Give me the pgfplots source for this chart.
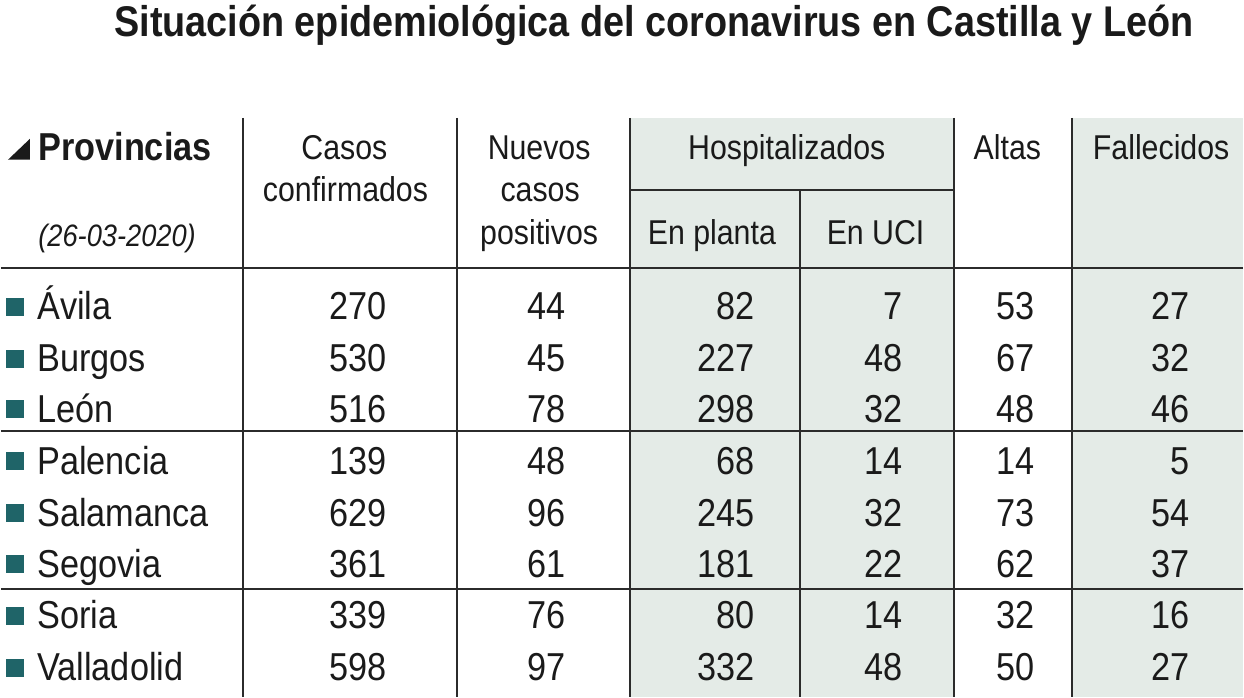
\documentclass[border=0pt]{standalone}
\usepackage{pgfplots}
\pgfplotsset{compat=1.18}
\usepackage{pgfplotstable}
\usepackage{fontspec}
\setmainfont{Liberation Sans}[FakeStretch=0.88]
\definecolor{bgshade}{HTML}{E4EBE7}
\definecolor{markteal}{HTML}{1F6468}
\definecolor{rulecol}{HTML}{2B2B2B}
\definecolor{ink}{HTML}{1A1A1A}

\pgfplotstableread{
y casos nuevos planta uci altas fall name
320 270 44 82 7 53 27 Ávila
372 530 45 227 48 67 32 Burgos
423 516 78 298 32 48 46 León
475 139 48 68 14 14 5 Palencia
527 629 96 245 32 73 54 Salamanca
578 361 61 181 22 62 37 Segovia
630 339 76 80 14 32 16 Soria
682 598 97 332 48 50 27 Valladolid
}\datatable

\newcommand{\bodyfont}{\fontsize{19.5pt}{23pt}\selectfont}
\newcommand{\headfont}{\fontsize{17.25pt}{21pt}\selectfont}

\begin{document}
\begin{tikzpicture}
\begin{axis}[
  scale only axis, width=622pt, height=349pt,
  xmin=0, xmax=1244, ymin=0, ymax=698, y dir=reverse,
  hide axis, clip=false,
  numcol/.style={draw=none, mark=none, nodes near coords, point meta=explicit symbolic,
    every node near coord/.append style={anchor=base east, inner sep=0pt, font=\bodyfont, text=ink}},
]
% background and shaded columns
\fill[white] (axis cs:0,0) rectangle (axis cs:1244,698);
\fill[bgshade] (axis cs:630,118) rectangle (axis cs:955,698);
\fill[bgshade] (axis cs:1073,118) rectangle (axis cs:1244,698);
% rules
\draw[rulecol, line width=1pt] (axis cs:0,268) -- (axis cs:1244,268);
\draw[rulecol, line width=1pt] (axis cs:0,432) -- (axis cs:1244,432);
\draw[rulecol, line width=1pt] (axis cs:0,590) -- (axis cs:1244,590);
\draw[rulecol, line width=1pt] (axis cs:630,190) -- (axis cs:955,190);
\draw[rulecol, line width=1pt] (axis cs:242,118) -- (axis cs:242,698);
\draw[rulecol, line width=1pt] (axis cs:457,118) -- (axis cs:457,698);
\draw[rulecol, line width=1pt] (axis cs:630,118) -- (axis cs:630,698);
\draw[rulecol, line width=1pt] (axis cs:955,118) -- (axis cs:955,698);
\draw[rulecol, line width=1pt] (axis cs:1073,118) -- (axis cs:1073,698);
\draw[rulecol, line width=1pt] (axis cs:800,190) -- (axis cs:800,698);
% title
\node[anchor=base, inner sep=0pt, text=ink, font=\fontsize{21.5pt}{26pt}\selectfont\bfseries]
  at (axis cs:654,37) {Situación epidemiológica del coronavirus en Castilla y León};
% header
\fill[ink] (axis cs:7,160) -- (axis cs:29,160) -- (axis cs:29,139) -- cycle;
\node[anchor=base west, inner sep=0pt, text=ink, font=\bodyfont\bfseries] at (axis cs:37,161) {Provincias};
\node[anchor=base west, inner sep=0pt, text=ink, font=\fontsize{15.5pt}{19pt}\selectfont\itshape] at (axis cs:37,247) {(26-03-2020)};
\node[anchor=base, inner sep=0pt, text=ink, font=\headfont] at (axis cs:344,160) {Casos};
\node[anchor=base, inner sep=0pt, text=ink, font=\headfont] at (axis cs:345,202) {confirmados};
\node[anchor=base, inner sep=0pt, text=ink, font=\headfont] at (axis cs:539,160) {Nuevos};
\node[anchor=base, inner sep=0pt, text=ink, font=\headfont] at (axis cs:540,202) {casos};
\node[anchor=base, inner sep=0pt, text=ink, font=\headfont] at (axis cs:539,245) {positivos};
\node[anchor=base, inner sep=0pt, text=ink, font=\headfont] at (axis cs:787,160) {Hospitalizados};
\node[anchor=base, inner sep=0pt, text=ink, font=\headfont] at (axis cs:712,245) {En planta};
\node[anchor=base, inner sep=0pt, text=ink, font=\headfont] at (axis cs:876,245) {En UCI};
\node[anchor=base, inner sep=0pt, text=ink, font=\headfont] at (axis cs:1008,160) {Altas};
\node[anchor=base, inner sep=0pt, text=ink, font=\headfont] at (axis cs:1162,160) {Fallecidos};
% province markers and names
\addplot[only marks, mark=square*, mark size=4.25pt, color=markteal,
  nodes near coords, point meta=explicit symbolic,
  every node near coord/.append style={anchor=base west, inner sep=0pt, xshift=11pt, yshift=-6.5pt, font=\bodyfont, text=ink}]
  table[x expr=14, y expr=\thisrow{y}-13, meta=name] {\datatable};
% numbers
\addplot[numcol] table[x expr=387, y=y, meta=casos] {\datatable};
\addplot[numcol] table[x expr=566, y=y, meta=nuevos] {\datatable};
\addplot[numcol] table[x expr=755, y=y, meta=planta] {\datatable};
\addplot[numcol] table[x expr=903, y=y, meta=uci] {\datatable};
\addplot[numcol] table[x expr=1036, y=y, meta=altas] {\datatable};
\addplot[numcol] table[x expr=1191, y=y, meta=fall] {\datatable};
\end{axis}
\end{tikzpicture}
\end{document}
